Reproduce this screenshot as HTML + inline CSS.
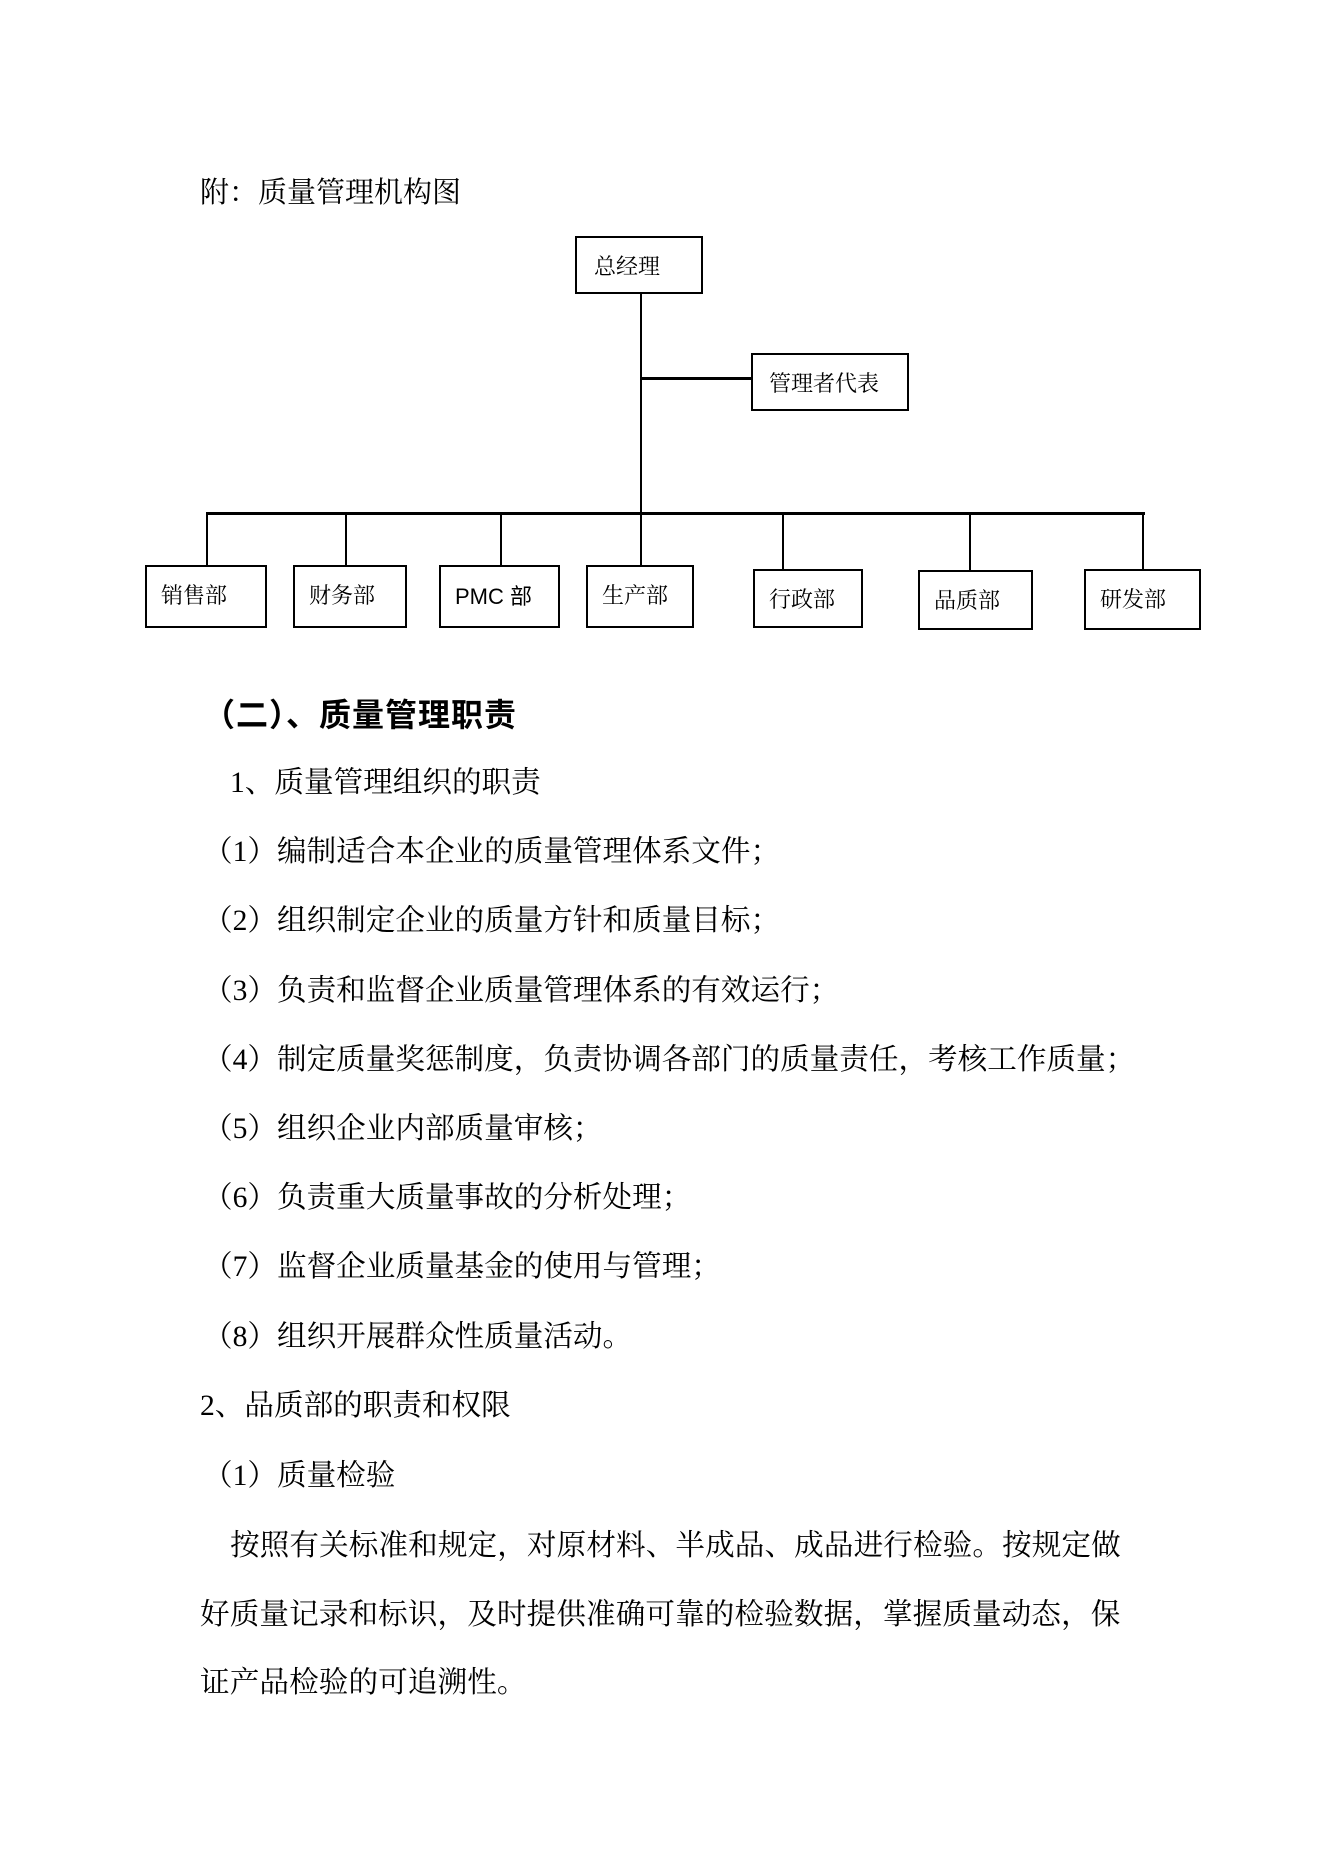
<!DOCTYPE html>
<html><head><meta charset="utf-8"><style>
html,body{margin:0;padding:0;background:#fff;}
body{width:1323px;height:1871px;position:relative;overflow:hidden;font-family:"Liberation Serif","Noto Serif CJK SC",serif;color:#000;}
.t{position:absolute;white-space:nowrap;font-size:29.6px;line-height:34px;}
.b{position:absolute;border:2px solid #000;box-sizing:border-box;background:#fff;font-size:22px;}
.b span{position:absolute;left:14px;top:12px;white-space:nowrap;}
.l{position:absolute;background:#000;}
</style></head><body>
<div class="t" style="left:200px;top:176px;font-size:29px;">附：质量管理机构图</div>

<div class="b" style="left:575px;top:236px;width:128px;height:58px;"><span style="left:17px">总经理</span></div>
<div class="l" style="left:640px;top:294px;width:2px;height:220px;"></div>
<div class="l" style="left:641px;top:377px;width:111px;height:3px;"></div>
<div class="b" style="left:751px;top:353px;width:158px;height:58px;"><span style="left:16px">管理者代表</span></div>
<div class="l" style="left:206px;top:512px;width:939px;height:3px;"></div>
<div class="l" style="left:206px;top:513px;width:2px;height:53px;"></div>
<div class="l" style="left:345px;top:513px;width:2px;height:53px;"></div>
<div class="l" style="left:500px;top:513px;width:2px;height:53px;"></div>
<div class="l" style="left:640px;top:513px;width:2px;height:53px;"></div>
<div class="l" style="left:782px;top:513px;width:2px;height:57px;"></div>
<div class="l" style="left:969px;top:513px;width:2px;height:57px;"></div>
<div class="l" style="left:1142px;top:513px;width:2px;height:57px;"></div>

<div class="b" style="left:145px;top:565px;width:122px;height:63px;"><span>销售部</span></div>
<div class="b" style="left:293px;top:565px;width:114px;height:63px;"><span>财务部</span></div>
<div class="b" style="left:439px;top:565px;width:121px;height:63px;"><span style="font-family:'Liberation Sans','Noto Sans CJK SC',sans-serif;">PMC 部</span></div>
<div class="b" style="left:586px;top:565px;width:108px;height:63px;"><span>生产部</span></div>
<div class="b" style="left:753px;top:569px;width:110px;height:59px;"><span>行政部</span></div>
<div class="b" style="left:918px;top:570px;width:115px;height:60px;"><span>品质部</span></div>
<div class="b" style="left:1084px;top:569px;width:117px;height:61px;"><span>研发部</span></div>

<div class="t" style="left:203px;top:696px;font-size:32px;letter-spacing:1px;font-weight:bold;font-family:'Noto Sans CJK SC',sans-serif;">（二）、质量管理职责</div>
<div class="t" style="left:230px;top:766px;">1、质量管理组织的职责</div>
<div class="t" style="left:203px;top:835px;">（1）编制适合本企业的质量管理体系文件；</div>
<div class="t" style="left:203px;top:904px;">（2）组织制定企业的质量方针和质量目标；</div>
<div class="t" style="left:203px;top:974px;">（3）负责和监督企业质量管理体系的有效运行；</div>
<div class="t" style="left:203px;top:1043px;">（4）制定质量奖惩制度，负责协调各部门的质量责任，考核工作质量；</div>
<div class="t" style="left:203px;top:1112px;">（5）组织企业内部质量审核；</div>
<div class="t" style="left:203px;top:1181px;">（6）负责重大质量事故的分析处理；</div>
<div class="t" style="left:203px;top:1250px;">（7）监督企业质量基金的使用与管理；</div>
<div class="t" style="left:203px;top:1320px;">（8）组织开展群众性质量活动。</div>
<div class="t" style="left:200px;top:1389px;">2、品质部的职责和权限</div>
<div class="t" style="left:203px;top:1459px;">（1）质量检验</div>
<div class="t" style="left:230px;top:1529px;letter-spacing:0.1px;">按照有关标准和规定，对原材料、半成品、成品进行检验。按规定做</div>
<div class="t" style="left:200px;top:1598px;letter-spacing:0.1px;">好质量记录和标识，及时提供准确可靠的检验数据，掌握质量动态，保</div>
<div class="t" style="left:200px;top:1666px;letter-spacing:0.1px;">证产品检验的可追溯性。</div>
</body></html>
